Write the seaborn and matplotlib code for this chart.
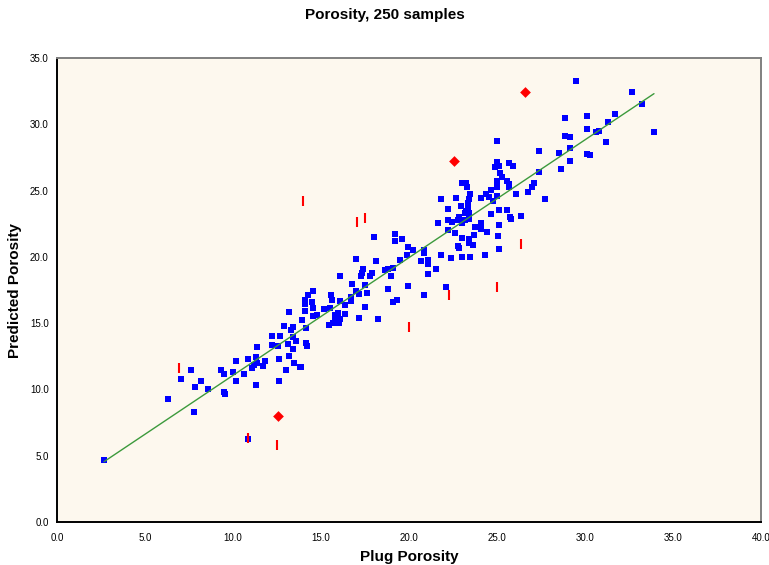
import matplotlib
matplotlib.use("Agg")
import matplotlib.pyplot as plt
import pandas as pd
import seaborn as sns
from matplotlib.ticker import FormatStrFormatter

# ---- data ----
plug_porosity = [
    2.67, 6.31, 7.05, 7.61, 7.78, 7.86, 8.18, 8.60, 9.34, 9.49, 9.49, 9.56, 9.98, 10.17, 10.17, 10.63, 10.87, 10.88,
    11.08, 11.18, 11.35, 11.31, 11.31, 11.38, 11.72, 11.84,
    12.19, 12.19, 12.57, 12.67, 12.60, 12.59, 12.90, 12.99, 13.21, 13.15, 13.18, 13.28, 13.39, 13.43, 13.39, 13.58,
    13.47, 13.78, 13.90, 14.07, 14.07, 14.09, 14.15, 14.19, 14.12, 14.28, 13.88,
    14.53, 14.47, 14.53, 14.53, 14.76, 15.17, 15.49, 15.57, 15.65, 15.47, 15.70, 15.78, 15.81, 15.97, 16.01, 16.08,
    16.08, 16.08, 16.38, 16.36, 16.69, 16.69, 16.76, 16.99, 16.99, 17.14, 17.18, 17.30, 17.33, 17.39, 17.48, 17.48,
    17.60, 17.78, 17.88, 18.01, 18.11, 18.26, 18.62, 18.82, 18.81, 18.99, 19.11, 19.11, 19.29, 19.20, 19.20, 19.51,
    19.60, 19.89, 19.94, 19.94, 20.21, 20.70, 20.87, 20.87, 20.87, 21.10, 21.10, 21.10, 21.56, 21.65,
    21.79, 21.80, 22.10, 22.20, 22.22, 22.44, 22.24, 22.59, 22.37, 22.68, 22.82, 22.78, 22.78, 22.82, 23.01, 22.98,
    23.01, 23.01, 22.99, 23.26, 23.30, 23.47, 23.43, 23.34, 23.38, 23.26, 23.43, 23.20, 23.39, 23.20, 23.43, 23.39,
    23.65, 23.69, 23.77, 23.47, 24.07, 24.07, 24.07, 24.30, 24.38, 24.53, 24.41, 24.66, 24.66, 24.79, 25.02, 25.02,
    24.91, 25.10, 25.17, 25.30, 25.02, 25.02, 25.02, 25.10, 25.14, 25.03, 25.10, 25.59, 25.68, 25.68, 25.66, 25.89,
    25.59, 25.74, 25.77, 26.08, 26.36, 26.76, 26.99, 27.12, 27.40, 27.39, 27.71,
    29.49, 32.65, 33.26, 31.70, 30.09, 28.88, 31.31, 30.09, 30.60, 30.81, 33.92, 28.86, 29.12, 31.19, 29.15, 28.51,
    30.09, 30.30, 29.12, 28.65,
]
predicted_porosity = [
    4.68, 9.30, 10.81, 11.47, 8.32, 10.21, 10.60, 10.07, 11.47, 11.16, 9.84, 9.66, 11.35, 12.17, 10.66, 11.16, 12.27,
    6.28, 11.59, 11.84, 11.99, 12.48, 10.31, 13.22, 11.77, 12.14,
    14.03, 13.35, 13.24, 14.03, 12.26, 10.61, 14.76, 11.43, 15.82, 13.40, 12.52, 14.48, 14.71, 13.99, 13.05, 13.65,
    11.97, 11.71, 15.24, 16.71, 16.48, 15.92, 13.52, 13.28, 14.60, 17.09, 11.71,
    17.45, 16.62, 16.12, 15.54, 15.61, 16.04, 16.14, 17.16, 16.77, 14.84, 14.99, 15.58, 15.24, 15.74, 15.03, 15.35,
    18.56, 16.69, 16.39, 15.69, 16.95, 16.69, 17.95, 19.82, 17.45, 17.22, 15.39, 18.56, 18.81, 19.12, 17.90, 16.20,
    17.30, 18.59, 18.76, 21.48, 19.67, 15.34, 19.01, 19.05, 17.55, 18.53, 19.16, 16.60, 16.78, 21.72, 21.17, 19.76,
    21.32, 20.14, 20.77, 17.80, 20.52, 19.67, 20.48, 20.29, 17.15, 19.73, 19.44, 18.71, 19.06, 22.53,
    24.34, 20.14, 17.73, 23.63, 22.78, 22.65, 22.03, 21.82, 19.95, 24.46, 23.04, 22.78, 20.82, 20.65, 25.55, 23.84,
    22.58, 21.42, 20.01, 25.57, 25.25, 24.74, 24.39, 24.09, 23.78, 23.48, 23.33, 23.29, 22.88, 22.78, 21.35, 21.02,
    20.89, 21.63, 22.23, 20.01, 24.46, 22.53, 22.08, 20.14, 24.72, 24.54, 21.90, 25.01, 23.23, 24.21, 28.74, 27.19,
    26.78, 26.83, 26.30, 25.99, 25.72, 25.29, 24.59, 23.53, 22.38, 21.57, 20.63, 25.72, 25.50, 25.27, 27.10, 26.88,
    23.51, 22.98, 22.86, 24.72, 23.06, 24.87, 25.27, 25.59, 26.40, 28.02, 24.34,
    33.24, 32.41, 31.55, 30.74, 30.61, 30.50, 30.20, 29.62, 29.44, 29.53, 29.42, 29.14, 29.04, 28.69, 28.19, 27.80,
    27.74, 27.68, 27.25, 26.59,
]

# red vertical-bar markers
bar_x = [6.93, 10.85, 12.50, 13.98, 17.03, 17.50, 20.00, 22.27, 25.00, 26.36]
bar_y = [11.62, 6.34, 5.81, 24.21, 22.63, 22.93, 14.71, 17.12, 17.73, 20.97]

# red diamonds
diamond_x = [12.57, 22.56, 26.61]
diamond_y = [7.97, 27.25, 32.41]

# green trend line end points
line_x = [2.67, 33.92]
line_y = [4.55, 32.31]

x_ticks = [0, 5, 10, 15, 20, 25, 30, 35, 40]
y_ticks = [0, 5, 10, 15, 20, 25, 30, 35]

# ---- plotting ----
sns.set_style("white")
plt.rcParams["font.family"] = ["Liberation Sans", "DejaVu Sans"]
plt.rcParams["text.color"] = "black"
plt.rcParams["axes.labelcolor"] = "black"
plt.rcParams["xtick.color"] = "black"
plt.rcParams["ytick.color"] = "black"

W, H = 769, 565
fig = plt.figure(figsize=(W / 100, H / 100), dpi=100)
ax = fig.add_axes([57 / W, 1 - 522 / H, (761 - 57) / W, (522 - 58) / H])
ax.set_facecolor("#FDF8EE")

pts = pd.DataFrame({"plug": plug_porosity, "pred": predicted_porosity})
bars = pd.DataFrame({"plug": bar_x, "pred": bar_y})
dias = pd.DataFrame({"plug": diamond_x, "pred": diamond_y})
trend = pd.DataFrame({"plug": line_x, "pred": line_y})

sns.scatterplot(data=pts, x="plug", y="pred", ax=ax, marker="s", s=22,
                color="#0000FF", linewidth=0, zorder=3)
sns.lineplot(data=trend, x="plug", y="pred", ax=ax, color="#3C9A3C",
             linewidth=1.0, sort=False, estimator=None, zorder=4)
sns.scatterplot(data=bars, x="plug", y="pred", ax=ax, marker="|", s=45,
                color="#FF0000", linewidth=1.5, zorder=5)
sns.scatterplot(data=dias, x="plug", y="pred", ax=ax, marker="D", s=30,
                color="#FF0000", linewidth=0, zorder=6)

ax.set_xlim(0, 40)
ax.set_ylim(0, 35)
ax.set_xticks(x_ticks)
ax.set_yticks(y_ticks)
ax.xaxis.set_major_formatter(FormatStrFormatter("%.1f"))
ax.yaxis.set_major_formatter(FormatStrFormatter("%.1f"))
ax.tick_params(axis="both", direction="inout", length=6, width=1.2,
               labelsize=7, color="black", labelcolor="black")
ax.tick_params(axis="x", pad=5)
ax.tick_params(axis="y", pad=3)

for side in ["left", "bottom"]:
    ax.spines[side].set_color("black")
    ax.spines[side].set_linewidth(1.4)
for side in ["top", "right"]:
    ax.spines[side].set_color("#808080")
    ax.spines[side].set_linewidth(1.4)
    ax.spines[side].set_visible(True)

ax.set_xlabel("")
ax.set_ylabel("")
fig.text(409 / W, 4 / H, "Plug Porosity", ha="center", va="baseline",
         fontsize=11, fontweight="bold", color="black")
fig.text(15 / W, 1 - 290 / H, "Predicted Porosity", ha="center", va="center",
         rotation=90, fontsize=11, fontweight="bold", color="black")
fig.text(0.5, 1 - 15 / H, "Porosity, 250 samples", ha="center", va="center",
         fontsize=11, fontweight="bold", color="black")

fig.savefig("out.png", dpi=100)
